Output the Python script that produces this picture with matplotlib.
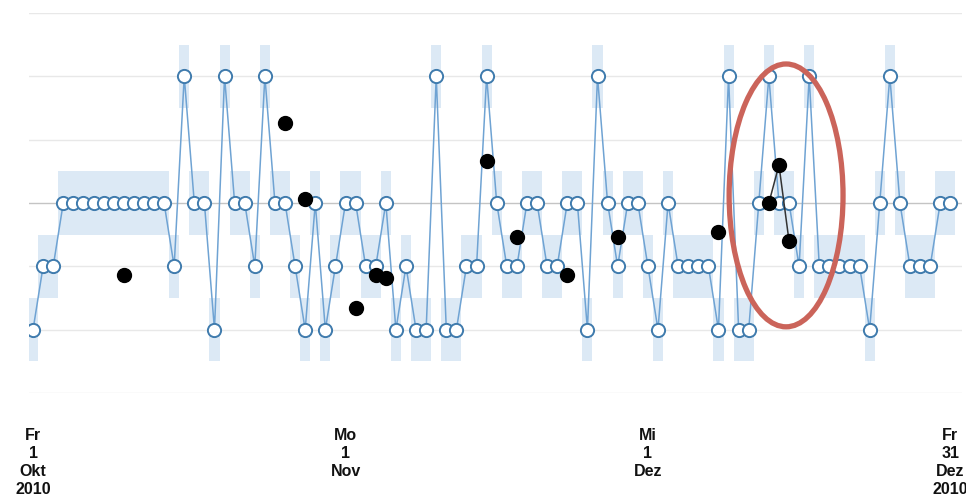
import numpy as np
import pandas as pd
import matplotlib
matplotlib.use('Agg')
import matplotlib.pyplot as plt
import matplotlib.dates as mdates
from matplotlib.patches import Ellipse
from matplotlib.transforms import blended_transform_factory

# daily values, 1 Oct - 31 Dec 2010
dates = pd.date_range('2010-10-01', '2010-12-31', freq='D')
levels_okt = [-2, -1, -1, 0, 0, 0, 0, 0, 0, 0, 0, 0, 0, 0, -1, 2, 0, 0, -2, 2,
              0, 0, -1, 2, 0, 0, -1, -2, 0, -2, -1]
levels_nov = [0, 0, -1, -1, 0, -2, -1, -2, -2, 2, -2, -2, -1, -1, 2, 0, -1, -1, 0, 0,
              -1, -1, 0, 0, -2, 2, 0, -1, 0, 0]
levels_dez = [-1, -2, 0, -1, -1, -1, -1, -2, 2, -2, -2, 0, 2, 0, 0, -1, 2, -1, -1, -1,
              -1, -1, -2, 0, 2, 0, -1, -1, -1, 0, 0]
levels = np.array(levels_okt + levels_nov + levels_dez, dtype=float)

# black points
dot_dates = ['2010-10-10', '2010-10-26', '2010-10-28', '2010-11-02', '2010-11-04',
             '2010-11-05', '2010-11-15', '2010-11-18', '2010-11-23', '2010-11-28',
             '2010-12-08', '2010-12-13', '2010-12-14', '2010-12-15']
dot_values = [-1.13, 1.26, 0.07, -1.66, -1.14, -1.19, 0.66, -0.53, -1.14, -0.54,
              -0.46, 0.0, 0.6, -0.6]

tick_dates = ['2010-10-01', '2010-11-01', '2010-12-01', '2010-12-31']
tick_labels = ['Fr\n1\nOkt\n2010', 'Mo\n1\nNov', 'Mi\n1\nDez', 'Fr\n31\nDez\n2010']

# highlighted region (ellipse): centre date, centre value, width in days, height
hl_center = '2010-12-14 17:00'
hl_value = 0.12
hl_width = 11.3
hl_height = 4.15

x = mdates.date2num(dates.to_pydatetime())
dots = pd.Series(np.nan, index=dates)
dots[pd.to_datetime(dot_dates)] = dot_values

fig = plt.figure(figsize=(9.66, 4.99), dpi=100)
ax = fig.add_axes([29 / 966, 106 / 499, 933 / 966, 380 / 499])
ax.set_xlim(x[0] - 0.4, x[0] + 92.16)
ax.set_ylim(-3, 3)
ax.axis('off')

for lv in range(-3, 4):
    ax.axhline(lv, color='#c4c4c4' if lv == 0 else '#e8e8e8', lw=1, zorder=1)

ax.bar(x, 1.0, bottom=levels - 0.5, width=1.0, color='#dce9f5', linewidth=0, zorder=0)

ax.plot(x, levels, '-', color='#6fa3d3', lw=1.1, zorder=2)
ax.plot(x, levels, 'o', ms=9.5, mfc='white', mec='#3f7bad', mew=1.4, zorder=3)

ax.plot(x, dots.values, '-', color='#333333', lw=1.1, zorder=4)
ax.plot(x, dots.values, 'o', ms=10, color='black', zorder=5)

cx = mdates.date2num(pd.Timestamp(hl_center).to_pydatetime())
ax.add_patch(Ellipse((cx, hl_value), hl_width, hl_height, fill=False,
                     ec='#cb645a', lw=3.8, zorder=6, clip_on=False))

trans = blended_transform_factory(ax.transData, fig.transFigure)
for d, lab in zip(tick_dates, tick_labels):
    xd = mdates.date2num(pd.Timestamp(d).to_pydatetime())
    ax.text(xd, 1 - 428 / 499, lab, transform=trans, ha='center', va='top',
            fontsize=11.5, fontweight='bold', family='Liberation Sans',
            linespacing=1.25, color='#111111', clip_on=False)

fig.savefig('out.png', dpi=100)
